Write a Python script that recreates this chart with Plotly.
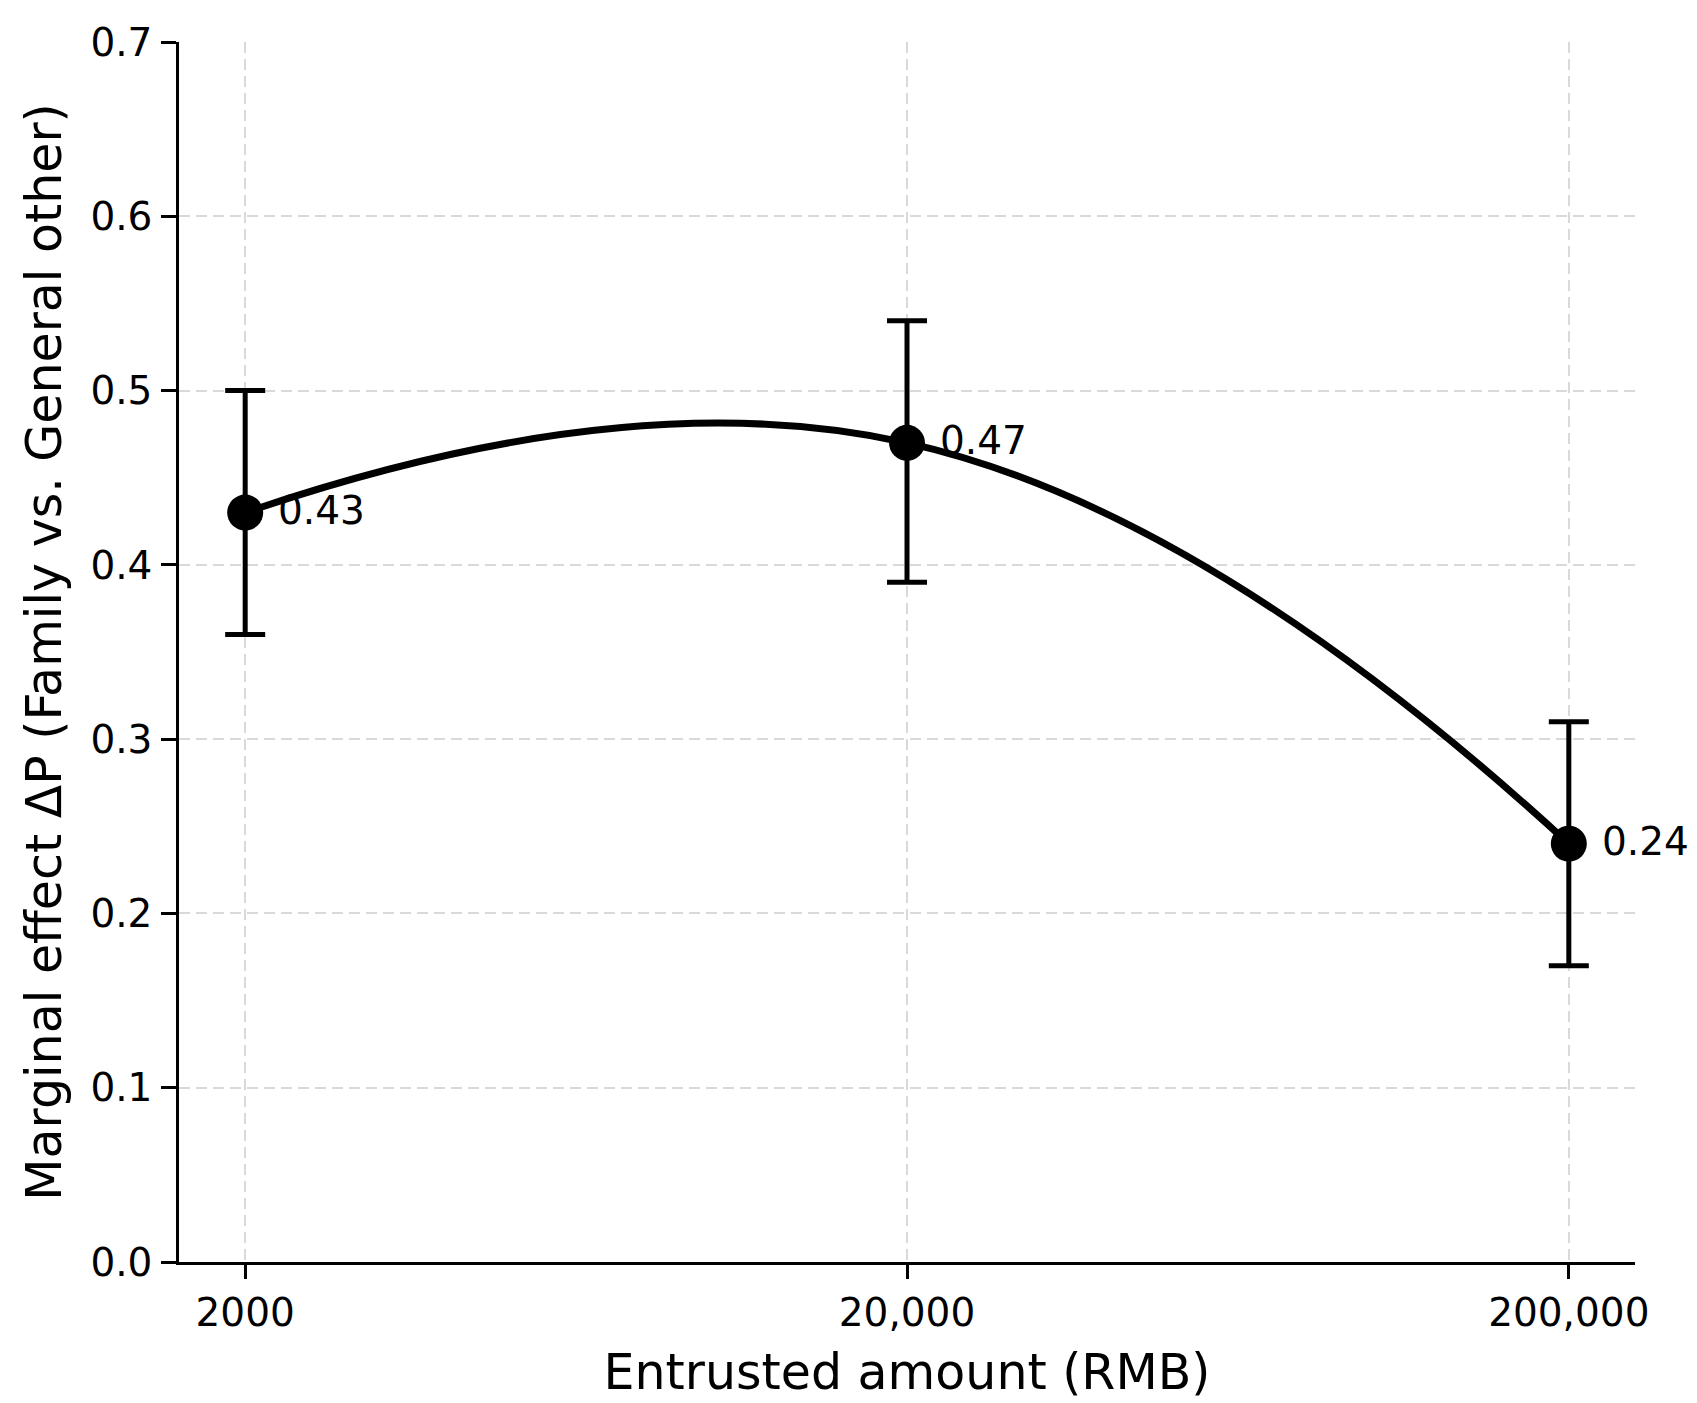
import math

import plotly.graph_objects as go

# entrusted amounts (log-spaced) and the estimated marginal effects
amounts = [2000, 20000, 200000]
amount_labels = ["2000", "20,000", "200,000"]
effects = [0.43, 0.47, 0.24]
ci_low = [0.36, 0.39, 0.17]
ci_high = [0.50, 0.54, 0.31]
y_ticks = [0.0, 0.1, 0.2, 0.3, 0.4, 0.5, 0.6, 0.7]

err_plus = [h - e for h, e in zip(ci_high, effects)]
err_minus = [e - l for e, l in zip(effects, ci_low)]

FONT = "DejaVu Sans"

fig = go.Figure()
fig.add_trace(go.Scatter(
    x=amounts,
    y=effects,
    mode="lines+markers",
    line=dict(color="black", width=7, shape="spline", smoothing=1.3),
    marker=dict(color="black", size=36),
    error_y=dict(
        type="data",
        symmetric=False,
        array=err_plus,
        arrayminus=err_minus,
        color="black",
        thickness=5,
        width=20,
    ),
    cliponaxis=False,
    showlegend=False,
))

for a, v in zip(amounts, effects):
    fig.add_annotation(
        x=math.log10(a), y=v,
        text="{:.2f}".format(v),
        showarrow=False,
        xanchor="left", yanchor="middle",
        xshift=31, yshift=2,
        font=dict(family=FONT, size=39, color="black"),
    )

lo = math.log10(amounts[0]) - 0.1
hi = math.log10(amounts[-1]) + 0.1

fig.update_xaxes(
    type="log",
    range=[lo, hi],
    tickmode="array",
    tickvals=amounts,
    ticktext=amount_labels,
    ticks="outside", ticklen=14, tickwidth=2.5, tickcolor="black",
    showline=True, linecolor="black", linewidth=2.5,
    showgrid=True, gridcolor="#d9d9d9", gridwidth=2, griddash="11px,6px",
    zeroline=False,
    tickfont=dict(family=FONT, size=39, color="black"),
    title=dict(text="Entrusted amount (RMB)", standoff=22,
               font=dict(family=FONT, size=49, color="black")),
)
fig.update_yaxes(
    range=[0, 0.7],
    tickmode="array",
    tickvals=y_ticks,
    tickformat=".1f",
    ticks="outside", ticklen=15, tickwidth=2.5, tickcolor="black",
    ticklabelstandoff=1,
    showline=True, linecolor="black", linewidth=2.5,
    showgrid=True, gridcolor="#d9d9d9", gridwidth=2, griddash="11px,6px",
    zeroline=False,
    tickfont=dict(family=FONT, size=39, color="black"),
    title=dict(text="Marginal effect ΔP (Family vs. General other)", standoff=14,
               font=dict(family=FONT, size=49, color="black")),
)

# the page body adds an 8px margin, so the figure is 8px smaller and shifted
fig.update_layout(
    width=1689, height=1395,
    margin=dict(l=171, r=62, t=32, b=134),
    plot_bgcolor="white",
    paper_bgcolor="white",
    font=dict(family=FONT, color="black"),
)

fig.write_html("out.html")
